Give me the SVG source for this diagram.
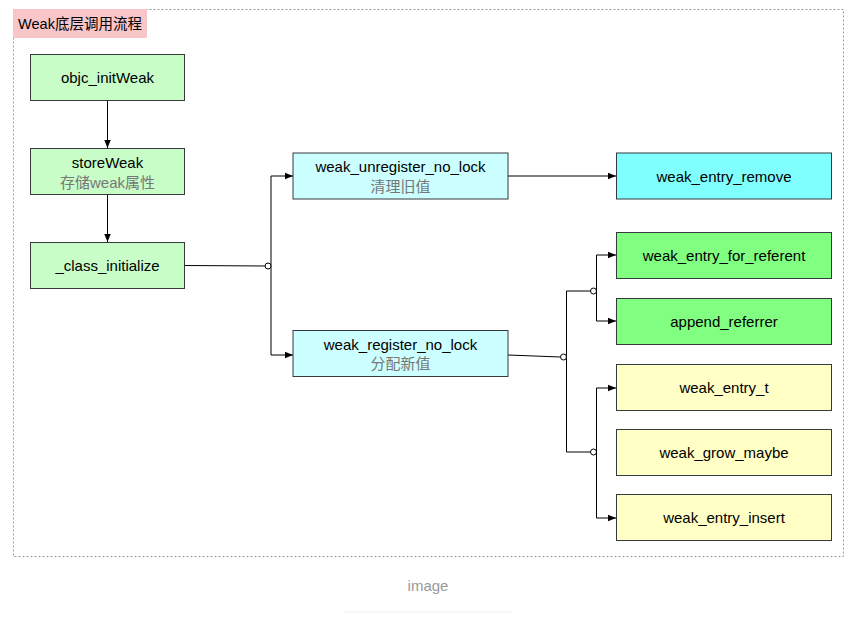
<svg xmlns="http://www.w3.org/2000/svg" width="850" height="635" viewBox="0 0 850 635">
<style>
  text { font-family: "Liberation Sans", Arial, "Noto Sans CJK SC", sans-serif; font-size: 15px; fill: #000; text-anchor: middle; }
  .sub { fill: #777; }
  .box { stroke: #36393d; stroke-width: 1; }
  .g1 { fill: #c8fdc8; }
  .c1 { fill: #ccffff; }
  .c2 { fill: #80ffff; }
  .g2 { fill: #80ff80; }
  .y1 { fill: #ffffc6; }
  .edge { fill: none; stroke: #000; stroke-width: 1; }
  .dot { fill: #fff; stroke: #000; stroke-width: 1; }
</style>
<defs>
  <marker id="arr" viewBox="0 0 10 10" refX="10" refY="5" markerWidth="8" markerHeight="8" markerUnits="userSpaceOnUse" orient="auto">
    <path d="M0,1 L10,5 L0,9 Z" fill="#000"/>
  </marker>
</defs>
<rect width="850" height="635" fill="#fff"/>
<g id="frame">
  <rect x="13.5" y="9.5" width="830" height="547" fill="none" stroke="#999" stroke-width="1" stroke-dasharray="2,2"/>
  <rect x="13" y="9" width="134" height="29" fill="#f8c6c9"/>
  <text x="80" y="29" style="font-size:14.5px">Weak底层调用流程</text>
</g>
<g id="connectors">
  <path class="edge" d="M107.5,101 V148" marker-end="url(#arr)"/>
  <path class="edge" d="M107.5,194 V242" marker-end="url(#arr)"/>
  <path class="edge" d="M185,265.5 L265,266"/>
  <path class="edge" d="M271,176 V355"/>
  <path class="edge" d="M271,176 H293" marker-end="url(#arr)"/>
  <path class="edge" d="M271,355 H293" marker-end="url(#arr)"/>
  <circle class="dot" cx="268" cy="266" r="3"/>
  <path class="edge" d="M508,176 H616" marker-end="url(#arr)"/>
  <path class="edge" d="M508,355 L560.5,357"/>
  <path class="edge" d="M566.5,291 V452"/>
  <path class="edge" d="M566.5,291 H590.5"/>
  <path class="edge" d="M566.5,452 H590.5"/>
  <circle class="dot" cx="563.5" cy="357" r="3"/>
  <circle class="dot" cx="593.5" cy="291" r="3"/>
  <circle class="dot" cx="593.5" cy="452" r="3"/>
  <path class="edge" d="M596.5,255 V321"/>
  <path class="edge" d="M596.5,255 H616" marker-end="url(#arr)"/>
  <path class="edge" d="M596.5,321 H616" marker-end="url(#arr)"/>
  <path class="edge" d="M596.5,388 V518"/>
  <path class="edge" d="M596.5,388 H616" marker-end="url(#arr)"/>
  <path class="edge" d="M596.5,518 H616" marker-end="url(#arr)"/>
</g>
<g id="objc_initWeak">
  <rect class="box g1" x="30.5" y="54.5" width="154" height="46"/>
  <text x="107.5" y="83">objc_initWeak</text>
</g>
<g id="storeWeak">
  <rect class="box g1" x="30.5" y="148.5" width="154" height="46"/>
  <text x="107.5" y="167.5">storeWeak</text>
  <text class="sub" x="107.5" y="188">存储weak属性</text>
</g>
<g id="class_initialize">
  <rect class="box g1" x="30.5" y="242.5" width="154" height="46"/>
  <text x="107.5" y="271">_class_initialize</text>
</g>
<g id="weak_unregister_no_lock">
  <rect class="box c1" x="293" y="153" width="215" height="46"/>
  <text x="400.5" y="172">weak_unregister_no_lock</text>
  <text class="sub" x="400.5" y="192">清理旧值</text>
</g>
<g id="weak_register_no_lock">
  <rect class="box c1" x="293" y="330.5" width="215" height="46"/>
  <text x="400.5" y="349.5">weak_register_no_lock</text>
  <text class="sub" x="400.5" y="369">分配新值</text>
</g>
<g id="weak_entry_remove">
  <rect class="box c2" x="616.5" y="153" width="215" height="46"/>
  <text x="724" y="181.5">weak_entry_remove</text>
</g>
<g id="weak_entry_for_referent">
  <rect class="box g2" x="616.5" y="232.5" width="215" height="46"/>
  <text x="724" y="261">weak_entry_for_referent</text>
</g>
<g id="append_referrer">
  <rect class="box g2" x="616.5" y="298.5" width="215" height="46"/>
  <text x="724" y="327">append_referrer</text>
</g>
<g id="weak_entry_t">
  <rect class="box y1" x="616.5" y="364.5" width="215" height="46"/>
  <text x="724" y="393">weak_entry_t</text>
</g>
<g id="weak_grow_maybe">
  <rect class="box y1" x="616.5" y="429.5" width="215" height="46"/>
  <text x="724" y="458">weak_grow_maybe</text>
</g>
<g id="weak_entry_insert">
  <rect class="box y1" x="616.5" y="494.5" width="215" height="46"/>
  <text x="724" y="523">weak_entry_insert</text>
</g>
<g id="caption">
  <text x="428" y="591" style="fill:#999;font-size:15px">image</text>
  <line x1="345" y1="612" x2="512" y2="612" stroke="#eee" stroke-width="1"/>
</g>
</svg>
